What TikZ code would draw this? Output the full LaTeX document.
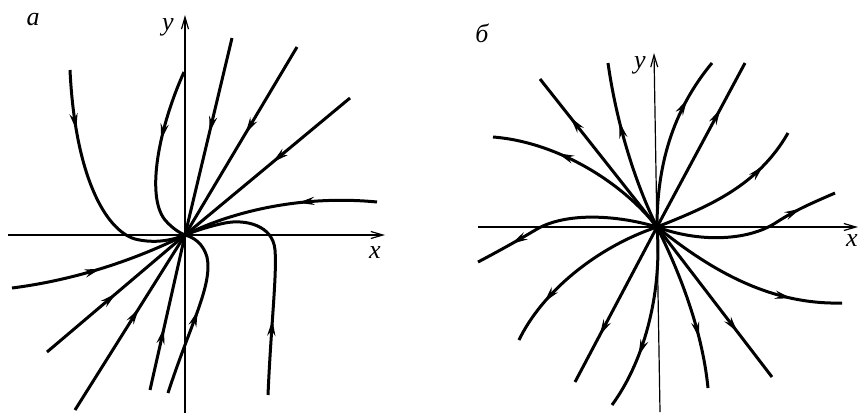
\documentclass[tikz,border=0pt]{standalone}
\usepackage{fontspec}
\setmainfont{Liberation Serif}
\usetikzlibrary{arrows.meta, decorations.markings}

\begin{document}
\begin{tikzpicture}[
						x=0.5pt, y=0.5pt,
						axis/.style={line width=0.6pt, -{Straight Barb[length=6pt,width=3.5pt]}},
						traj/.style={line width=1.5pt},
						flow/.style={traj, postaction=decorate, decoration={markings, mark=at position #1 with {\arrow{Stealth[length=8pt,width=4pt]}}}},
						lbl/.style={font=\fontsize{13}{15}\selectfont\itshape, inner sep=0pt}
					]

					\useasboundingbox (0,0) rectangle (860,414);

					% Portrait a
					\begin{scope}[shift={(185,179)}]
					\coordinate (oa) at (0,0);
					\coordinate (xa0) at (-177,0);
					\coordinate (xa1) at (200,0);
					\coordinate (ya0) at (0,-178);
					\coordinate (ya1) at (0,220);

					% Axes
					\draw[axis] (xa0) -- (xa1);
					\draw[axis] (ya0) -- (ya1);
					\node[lbl] (xlabA) at (190,-18) {x};
					\node[lbl] (ylabA) at (-17,208) {y};
					\node[lbl] (tagA) at (-152,215) {а};

					% Trajectories
					\draw[flow=0.25] (-115,165) .. controls (-110,60) and (-80,5) .. (-50,-4) .. controls (-30,-9) and (-12,-5) .. (oa);
					\draw[flow=0.4] (-1,163) .. controls (-25,110) and (-40,40) .. (-20,15) .. controls (-12,6) and (-5,2) .. (oa);
					\draw[flow=0.48] (47,197) -- (oa);
					\draw[flow=0.46] (112,188) -- (oa);
					\draw[flow=0.47] (165,137) -- (oa);
					\draw[flow=0.4] (192,33) .. controls (120,40) and (50,25) .. (oa);
					\draw[flow=0.3] (83,-160) .. controls (86,-90) and (92,-40) .. (90,-15) .. controls (88,10) and (60,16) .. (40,12) .. controls (25,9) and (10,4) .. (oa);
					\draw[flow=0.5] (-17,-158) .. controls (5,-90) and (28,-50) .. (22,-22) .. controls (18,-8) and (8,-2) .. (oa);
					\draw[flow=0.4] (-35,-155) -- (oa);
					\draw[flow=0.58] (-110,-175) -- (oa);
					\draw[flow=0.5] (-138,-117) -- (oa);
					\draw[flow=0.5] (-173,-53) .. controls (-110,-45) and (-50,-25) .. (oa);
					\end{scope}

					% Portrait b
					\begin{scope}[shift={(657,187)}]
					\coordinate (ob) at (0,0);
					\coordinate (xb0) at (-179,0);
					\coordinate (xb1) at (201,0);
					\coordinate (yb0) at (3,-185);
					\coordinate (yb1) at (-3,174);

					% Axes
					\draw[axis] (xb0) -- (xb1);
					\draw[axis] (yb0) -- (yb1);
					\node[lbl] (xlabB) at (195,-14) {x};
					\node[lbl] (ylabB) at (-17,162) {y};
					\node[lbl] (tagB) at (-175,194) {б};

					% Trajectories
					\draw[flow=0.74] (ob) -- (-117,148);
					\draw[flow=0.65] (ob) .. controls (-35,45) and (-100,85) .. (-164,90);
					\draw[flow=0.65] (ob) .. controls (-20,40) and (-40,100) .. (-49,164);
					\draw[flow=0.75] (ob) .. controls (0,50) and (10,110) .. (55,164);
					\draw[flow=0.72] (ob) -- (88,164);
					\draw[flow=0.75] (ob) .. controls (50,20) and (100,40) .. (131,94);
					\draw[flow=0.8] (ob) .. controls (40,-15) and (90,-15) .. (120,5) .. controls (140,18) and (160,26) .. (178,34);
					\draw[flow=0.8] (ob) .. controls (-40,12) and (-90,15) .. (-120,-2) .. controls (-140,-14) and (-160,-25) .. (-179,-35);
					\draw[flow=0.75] (ob) .. controls (-60,-20) and (-115,-65) .. (-138,-113);
					\draw[flow=0.7] (ob) -- (-82,-155);
					\draw[flow=0.7] (ob) .. controls (5,-60) and (-10,-130) .. (-45,-178);
					\draw[flow=0.7] (ob) .. controls (20,-40) and (45,-100) .. (51,-161);
					\draw[flow=0.7] (ob) -- (115,-150);
					\draw[flow=0.75] (ob) .. controls (50,-40) and (110,-78) .. (185,-76);
					\end{scope}
				\end{tikzpicture}
\end{document}
